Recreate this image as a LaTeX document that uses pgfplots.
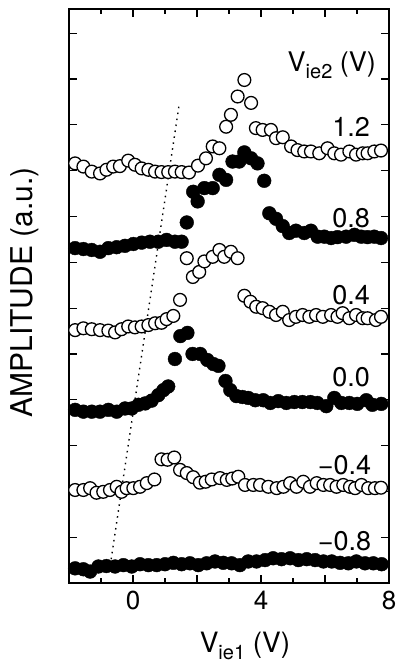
\documentclass[border=0pt]{standalone}
\usepackage{fontspec}
\setmainfont{TeX Gyre Heros}
\usepackage{pgfplots}
\pgfplotsset{compat=1.18}
\newcommand{\sub}[1]{\raisebox{-7pt}{\fontsize{20}{22}\selectfont #1}}
\newcommand{\lab}{\fontsize{27}{30}\selectfont}
\pgfplotsset{
  openser/.style={only marks, mark=*, mark size=6.4pt, mark options={fill=white, draw=black, line width=1.3pt}},
  fillser/.style={only marks, mark=*, mark size=6.9pt, mark options={fill=black, draw=black}},
}
\begin{document}
\begin{tikzpicture}
\begin{axis}[
  scale only axis, width=320pt, height=574pt,
  xmin=-2, xmax=8, ymin=0, ymax=12.53,
  clip=false,
  axis line style={line width=1.5pt},
  every tick/.style={line width=1.2pt, black},
  tick align=inside,
  major tick length=8pt, minor tick length=5pt,
  xtick={0,2,4,6,8}, xticklabels={0,,4,,8},
  minor xtick={-1,1,3,5,7},
  ytick={1,2,3,4,5,6,7,8,9,10,11,12}, yticklabels={},
  /pgf/number format/assume math mode=true,
  xticklabel style={font=\fontsize{26}{30}\selectfont, yshift=-5pt},
]
% V_ie2 = 1.2 (open)
\addplot[openser] table {
-1.81 9.16
-1.55 9.09
-1.29 8.98
-1.03 8.94
-0.83 9.02
-0.62 9.09
-0.41 9.10
-0.15 9.22
0.06 9.13
0.27 9.05
0.48 9.02
0.69 8.98
0.89 8.97
1.10 8.97
1.31 8.98
1.52 8.97
1.75 8.96
2.03 9.11
2.28 9.27
2.49 9.53
2.70 9.49
2.91 9.96
3.06 10.22
3.27 10.62
3.48 10.98
3.69 10.48
3.84 9.93
4.05 9.89
4.31 9.89
4.47 9.71
4.68 9.73
4.94 9.53
5.14 9.45
5.35 9.42
5.56 9.42
5.82 9.38
6.08 9.49
6.29 9.38
6.50 9.35
6.76 9.42
6.97 9.35
7.18 9.38
7.33 9.38
7.54 9.42
7.75 9.44
};
% V_ie2 = 0.8 (filled)
\addplot[fillser] table {
-1.81 7.31
-1.55 7.29
-1.29 7.27
-1.03 7.23
-0.77 7.31
-0.51 7.33
-0.25 7.36
0.01 7.40
0.27 7.43
0.53 7.45
0.79 7.45
1.05 7.49
1.31 7.45
1.52 7.45
1.68 7.87
1.88 8.54
2.02 8.33
2.23 8.62
2.49 8.62
2.70 8.91
2.91 8.80
3.11 9.20
3.32 9.20
3.48 9.40
3.69 9.27
3.89 9.16
4.10 8.78
4.26 8.07
4.47 7.95
4.68 7.79
4.88 7.64
5.09 7.69
5.35 7.64
5.56 7.69
5.77 7.56
5.98 7.56
6.19 7.53
6.39 7.55
6.66 7.56
6.92 7.60
7.13 7.56
7.33 7.55
7.54 7.56
7.75 7.53
};
% V_ie2 = 0.4 (open)
\addplot[openser] table {
-1.81 5.52
-1.55 5.56
-1.29 5.54
-1.03 5.52
-0.77 5.51
-0.56 5.47
-0.36 5.54
-0.15 5.60
0.06 5.58
0.27 5.60
0.48 5.63
0.69 5.67
0.89 5.68
1.05 5.76
1.26 5.83
1.47 6.18
1.68 7.09
1.87 6.68
2.07 6.79
2.23 7.02
2.49 7.12
2.70 7.27
2.85 7.12
3.06 7.23
3.27 7.09
3.48 6.27
3.67 6.14
3.85 6.03
4.05 6.00
4.26 5.92
4.47 5.85
4.68 5.92
4.88 5.74
5.09 5.81
5.30 5.85
5.51 5.81
5.72 5.85
5.93 5.81
6.19 5.85
6.39 5.81
6.55 5.89
6.76 5.78
6.97 5.85
7.18 5.78
7.33 5.78
7.59 5.74
7.75 5.81
};
% V_ie2 = 0.0 (filled)
\addplot[fillser] table {
-1.81 3.78
-1.55 3.74
-1.29 3.74
-1.03 3.74
-0.77 3.78
-0.51 3.74
-0.25 3.81
-0.04 3.81
0.17 3.89
0.38 3.92
0.58 3.98
0.79 4.10
0.95 4.21
1.10 4.29
1.31 4.89
1.48 5.39
1.70 5.46
1.86 5.00
2.10 5.00
2.32 4.87
2.51 4.78
2.67 4.74
2.89 4.41
3.04 4.21
3.23 4.08
3.42 4.06
3.60 4.04
3.82 3.99
4.07 3.99
4.29 3.93
4.54 3.97
4.79 3.93
5.04 3.95
5.29 3.95
5.54 3.95
5.76 3.93
6.04 3.86
6.29 4.04
6.51 3.93
6.76 3.93
7.01 3.91
7.29 3.99
7.48 3.89
7.76 3.91
};
% V_ie2 = -0.4 (open)
\addplot[openser] table {
-1.81 2.03
-1.55 2.03
-1.34 2.07
-1.14 1.97
-0.93 1.99
-0.72 2.03
-0.51 2.10
-0.36 1.99
-0.20 2.07
0.01 2.07
0.22 2.10
0.43 2.18
0.67 2.26
0.89 2.70
1.08 2.69
1.29 2.74
1.47 2.47
1.68 2.40
1.88 2.31
2.09 2.19
2.27 2.21
2.46 2.26
2.72 2.29
2.93 2.25
3.10 2.28
3.29 2.32
3.50 2.14
3.76 2.14
3.97 2.14
4.23 2.10
4.49 2.07
4.70 2.10
4.91 2.18
5.11 2.10
5.32 2.21
5.53 2.10
5.74 2.18
5.95 2.14
6.16 2.14
6.36 2.10
6.57 2.14
6.78 2.10
6.94 2.07
7.14 2.14
7.35 2.07
7.56 2.07
7.75 2.08
};
% V_ie2 = -0.8 (filled)
\addplot[fillser] table {
-1.81 0.32
-1.55 0.30
-1.34 0.25
-1.08 0.36
-0.83 0.37
-0.56 0.36
-0.30 0.39
-0.04 0.36
0.22 0.41
0.48 0.39
0.74 0.39
1.00 0.41
1.26 0.44
1.52 0.41
1.78 0.43
2.04 0.39
2.30 0.43
2.56 0.47
2.82 0.44
3.08 0.43
3.34 0.39
3.60 0.47
3.86 0.47
4.13 0.50
4.38 0.54
4.64 0.52
4.91 0.54
5.17 0.50
5.43 0.52
5.69 0.50
5.95 0.47
6.21 0.47
6.47 0.44
6.73 0.43
6.98 0.47
7.25 0.43
7.51 0.43
7.77 0.41
};
% dotted guide line
\addplot[black, line width=1.4pt, dash pattern=on 1.5pt off 4.5pt] coordinates {(-0.71,0.39) (1.45,10.48)};
% labels
\node[anchor=base east, font=\lab] at (axis cs:7.70,11.16) {V\sub{ie2} (V)};
\node[anchor=base east, font=\lab] at (axis cs:7.51,9.74) {1.2};
\node[anchor=base east, font=\lab] at (axis cs:7.51,7.77) {0.8};
\node[anchor=base east, font=\lab] at (axis cs:7.51,6.07) {0.4};
\node[anchor=base east, font=\lab] at (axis cs:7.51,4.28) {0.0};
\node[anchor=base east, font=\lab] at (axis cs:7.55,2.36) {−0.4};
\node[anchor=base east, font=\lab] at (axis cs:7.55,0.72) {−0.8};
\node[anchor=base, font=\fontsize{28}{30}\selectfont] at ([yshift=-69pt]rel axis cs:0.55,0) {V\sub{ie1} (V)};
\node[anchor=base, rotate=90, font=\fontsize{30}{34}\selectfont] at ([xshift=-36pt]rel axis cs:0,0.506) {AMPLITUDE (a.u.)};
\end{axis}
\pgfresetboundingbox
\path ([shift={(-69pt,-81pt)}]current axis.south west) rectangle ([shift={(6pt,9pt)}]current axis.north east);
\end{tikzpicture}
\end{document}
